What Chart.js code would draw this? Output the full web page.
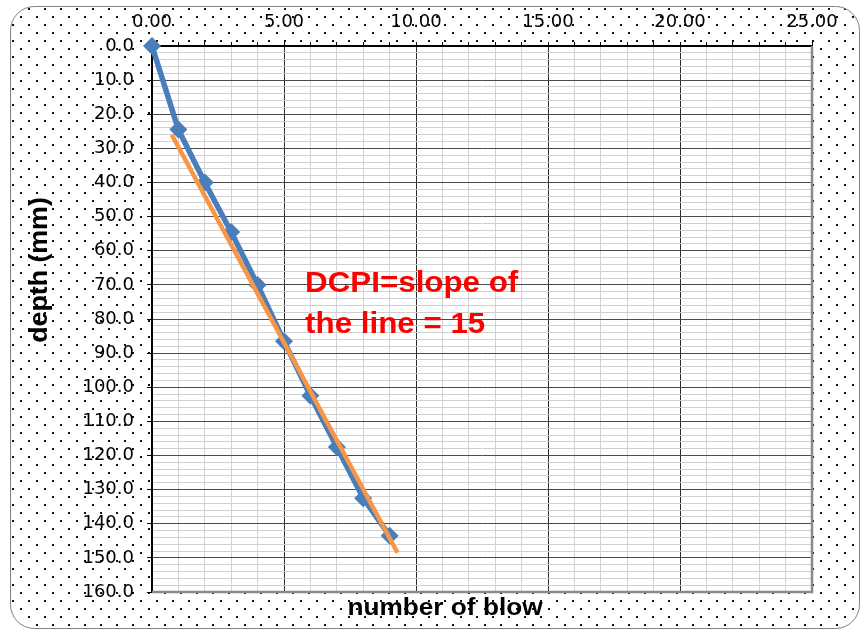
<!DOCTYPE html>
<html><head><meta charset="utf-8">
<script src="https://cdn.jsdelivr.net/npm/chart.js@4/dist/chart.umd.min.js"></script>
<style>html,body{margin:0;padding:0;background:#fff;overflow:hidden}#wrap{width:861px;height:631px}</style>
</head><body><div id="wrap"><canvas id="c" width="861" height="631"></canvas></div>
<script>
// ---- data ----
const blows = [0, 1, 2, 3, 4, 5, 6, 7, 8, 9];
const depths = [0, 24.5, 40, 54.5, 70, 86.5, 102.5, 117.5, 132.5, 143.5];
const trendBlows = [0.75, 9.3];
const trendDepths = [26, 148.5];
const xTickLabels = ['0.00', '5.00', '10.00', '15.00', '20.00', '25.00'];
const yTickLabels = ['0.0','10.0','20.0','30.0','40.0','50.0','60.0','70.0','80.0','90.0','100.0','110.0','120.0','130.0','140.0','150.0','160.0'];
const xTitle = 'number of blow';
const yTitle = 'depth (mm)';
const noteLines = ['DCPI=slope of', 'the line = 15'];
const noteBlow = 5.8;
const noteDepths = [72.1, 84.1];

const FONT = '"Liberation Sans", Arial, sans-serif';
const TICKFONT = '"DejaVu Sans", sans-serif';

function stretchedText(ctx, text, x, y, sx) {
  ctx.save();
  ctx.translate(x, y);
  ctx.scale(sx, 1);
  ctx.fillText(text, 0, 0);
  ctx.restore();
}

const bgPlugin = {
  id: 'bg',
  beforeDraw(chart) {
    const ctx = chart.ctx, a = chart.chartArea;
    ctx.save();
    ctx.fillStyle = '#fff';
    ctx.fillRect(0, 0, chart.width, chart.height);
    const p = document.createElement('canvas');
    p.width = 16; p.height = 16;
    const pc = p.getContext('2d');
    pc.fillStyle = '#111';
    pc.fillRect(4, 0, 2, 2);
    pc.fillRect(12, 8, 2, 2);
    const pat = ctx.createPattern(p, 'repeat');
    ctx.beginPath();
    ctx.roundRect(10.5, 6.5, 849, 622, 24);
    ctx.fillStyle = pat;
    ctx.fill();
    ctx.strokeStyle = '#808080';
    ctx.lineWidth = 1;
    ctx.stroke();
    ctx.fillStyle = '#fff';
    ctx.fillRect(a.left, a.top, a.right - a.left, a.bottom - a.top);
    ctx.restore();
  },
  afterDatasetsDraw(chart) {
    const ctx = chart.ctx, xs = chart.scales.x, ys = chart.scales.y;
    ctx.save();
    ctx.fillStyle = '#ff0000';
    ctx.font = 'bold 29px ' + FONT;
    ctx.textAlign = 'left';
    ctx.textBaseline = 'alphabetic';
    noteLines.forEach((t, i) => {
      stretchedText(ctx, t, xs.getPixelForValue(noteBlow), ys.getPixelForValue(noteDepths[i]), 1.08);
    });
    ctx.restore();
  },
  afterDraw(chart) {
    const ctx = chart.ctx, a = chart.chartArea;
    ctx.save();
    // right and bottom frame of the plot
    ctx.strokeStyle = '#8a8a8a';
    ctx.lineWidth = 2.5;
    ctx.beginPath();
    ctx.moveTo(a.right, a.top);
    ctx.lineTo(a.right, a.bottom);
    ctx.lineTo(a.left, a.bottom);
    ctx.stroke();
    // axis titles
    ctx.fillStyle = '#000';
    ctx.font = 'bold 23px ' + FONT;
    ctx.textAlign = 'center';
    ctx.textBaseline = 'alphabetic';
    stretchedText(ctx, xTitle, 445, 615, 1.14);
    ctx.translate(40, 270);
    ctx.rotate(-Math.PI / 2);
    ctx.font = 'bold 25px ' + FONT;
    ctx.textBaseline = 'middle';
    stretchedText(ctx, yTitle, 0, 0, 1.07);
    ctx.restore();
  }
};

new Chart(document.getElementById('c'), {
  type: 'scatter',
  data: {
    datasets: [
      {
        data: blows.map((b, i) => ({ x: b, y: depths[i] })),
        showLine: true,
        borderColor: '#4a7ebb',
        backgroundColor: '#4a7ebb',
        borderWidth: 5.5,
        pointStyle: 'rectRot',
        pointRadius: 9,
        pointBorderWidth: 0,
        clip: false,
        order: 2
      },
      {
        data: trendBlows.map((b, i) => ({ x: b, y: trendDepths[i] })),
        showLine: true,
        borderColor: '#f79646',
        backgroundColor: '#f79646',
        borderWidth: 4.5,
        pointRadius: 0,
        order: 1
      }
    ]
  },
  options: {
    responsive: false,
    devicePixelRatio: 1,
    animation: false,
    layout: { padding: { left: 0, top: 0, right: 49, bottom: 39 } },
    plugins: { legend: { display: false }, tooltip: { enabled: false }, title: { display: false } },
    scales: {
      x: {
        type: 'linear',
        position: 'top',
        min: 0, max: 25,
        afterFit(s) { s.height = 46; },
        ticks: {
          stepSize: 1, autoSkip: false, maxRotation: 0, padding: 9,
          color: '#000',
          font: { family: TICKFONT, size: 18 },
          callback: (v) => (Math.round(v) % 5 === 0 ? xTickLabels[Math.round(v) / 5] : '')
        },
        grid: {
          color: (c) => (Math.round(c.tick.value) % 5 === 0 ? '#2b2b2b' : '#d4d4d4'),
          lineWidth: 1,
          tickLength: 4,
          tickColor: '#000'
        },
        border: { color: '#000', width: 2 }
      },
      y: {
        type: 'linear',
        reverse: true,
        min: 0, max: 160,
        afterFit(s) { s.width = 152; },
        ticks: {
          stepSize: 2, autoSkip: false, padding: 13,
          color: '#000',
          font: { family: TICKFONT, size: 18 },
          callback: (v) => (Math.round(v) % 10 === 0 ? yTickLabels[Math.round(v) / 10] : '')
        },
        grid: {
          color: (c) => (Math.round(c.tick.value) % 10 === 0 ? '#4a4a4a' : '#d0d0d0'),
          lineWidth: 1,
          tickLength: 5,
          tickColor: (c) => (Math.round(c.tick.value) % 10 === 0 ? '#000' : 'rgba(0,0,0,0)')
        },
        border: { color: '#000', width: 2 }
      }
    }
  },
  plugins: [bgPlugin]
});
</script>
</body></html>
